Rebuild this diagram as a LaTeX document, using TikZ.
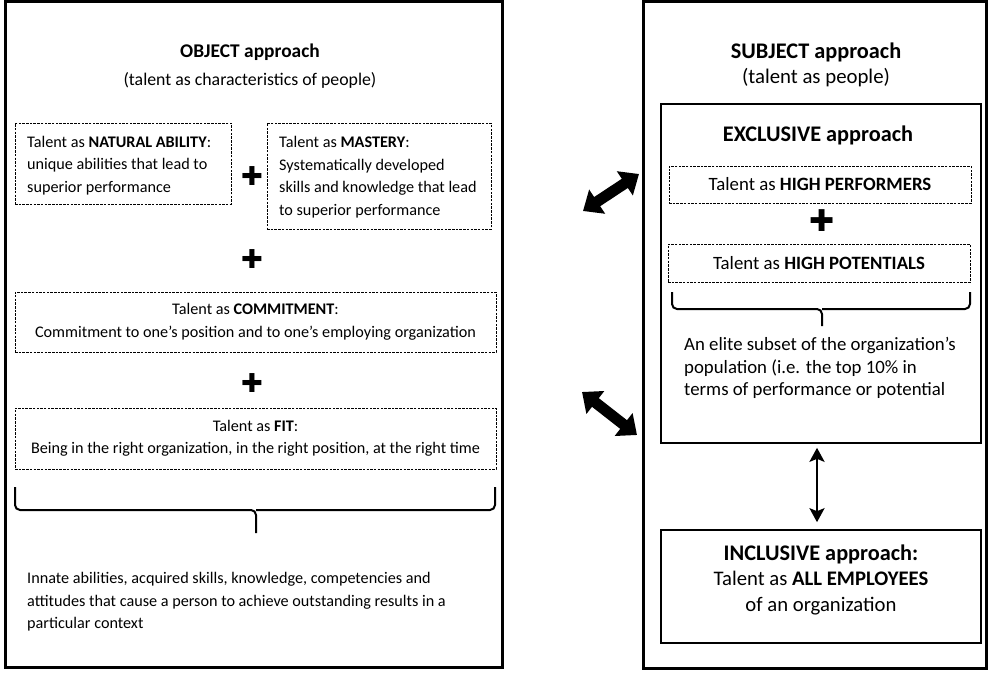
\documentclass[tikz,border=0pt]{standalone}
\usepackage{fontspec}
\setmainfont{Carlito}
\newfontfamily\symfont{DejaVu Sans}
\usetikzlibrary{arrows.meta}
\begin{document}
\begin{tikzpicture}[x=1pt,y=-1pt,
 every node/.style={font=\fontsize{16.2}{22.5}\selectfont, inner sep=0pt},
 rbody/.style={font=\fontsize{18.8}{22.5}\selectfont},
 outerbox/.style={draw, line width=3pt},
 solidbox/.style={draw, line width=1.6pt},
 dashbox/.style={draw, line width=0.9pt, dash pattern=on 2.5pt off 1.2pt},
 ttl/.style={font=\fontsize{19.4}{23}\selectfont\bfseries},
 subttl/.style={font=\fontsize{17.8}{22}\selectfont},
 rttl/.style={font=\fontsize{22.3}{26}\selectfont\bfseries},
 rsubttl/.style={font=\fontsize{20.8}{24}\selectfont},
 plussign/.style={font=\symfont\fontsize{26}{26}\selectfont},
 rplussign/.style={font=\symfont\fontsize{30}{30}\selectfont},
 fat/.style={line width=11pt, {Triangle[length=17pt,width=28pt]}-{Triangle[length=17pt,width=28pt]}},
 thin/.style={line width=2.6pt, {Stealth[length=14pt,width=15pt,inset=3pt]}-{Stealth[length=14pt,width=15pt,inset=3pt]}},
 bracepath/.style={line width=2pt, rounded corners=5pt}
]
\useasboundingbox (0,0) rectangle (989,677);

% outer boxes
\node[outerbox, minimum width=497pt, minimum height=665pt] (L) at (253.5,334.5) {};
\node[outerbox, minimum width=343pt, minimum height=666pt] (R) at (814.5,335) {};

% left titles
\node[ttl] (objt) at (250,52) {OBJECT approach};
\node[subttl] (objs) at (250,80) {(talent as characteristics of people)};

% left boxes
\node[dashbox, minimum width=216pt, minimum height=81pt] (nat) at (123,163.5) {};
\node[anchor=west, align=left] (natt) at (27,165.5)
 {Talent as \textbf{NATURAL ABILITY}:\\unique abilities that lead to\\superior performance};
\node[dashbox, minimum width=224pt, minimum height=106pt] (mas) at (379,176) {};
\node[anchor=west, align=left] (mast) at (279,177)
 {Talent as \textbf{MASTERY}:\\Systematically developed\\skills and knowledge that lead\\to superior performance};
\node[plussign] (p1) at (252,176) {✚};
\node[plussign] (p2) at (252,259) {✚};
\node[dashbox, minimum width=481pt, minimum height=60pt, align=center] (com) at (255.5,322)
 {Talent as \textbf{COMMITMENT}:\\Commitment to one’s position and to one’s employing organization};
\node[plussign] (p3) at (252,383) {✚};
\node[dashbox, minimum width=481pt, minimum height=61pt, align=center] (fit) at (255.5,438.5)
 {Talent as \textbf{FIT}:\\Being in the right organization, in the right position, at the right time};

% left brace
\coordinate (lb1) at (15,487);
\coordinate (lbm) at (256,510);
\coordinate (lbt) at (256,533);
\coordinate (lb2) at (495,487);
\draw[bracepath] (lb1) |- (lbm) -- (lbt);
\draw[bracepath] (lb2) |- (lbm);

\node[anchor=west, align=left] (objdef) at (27,602)
 {Innate abilities, acquired skills, knowledge, competencies and\\attitudes that cause a person to achieve outstanding results in a\\particular context};

% right titles
\node[rttl] (subt) at (816,52) {SUBJECT approach};
\node[rsubttl] (subs) at (816,78) {(talent as people)};

% exclusive
\node[solidbox, minimum width=320pt, minimum height=339pt] (exc) at (821,273.5) {};
\node[rttl] (exct) at (818,135) {EXCLUSIVE approach};
\node[dashbox, rbody, minimum width=302pt, minimum height=37pt] (hp) at (820,184.5) {Talent as \textbf{HIGH PERFORMERS}};
\node[rplussign] (p4) at (822,221) {✚};
\node[dashbox, rbody, minimum width=302pt, minimum height=38pt] (hpot) at (819,263) {Talent as \textbf{HIGH POTENTIALS}};

\coordinate (rb1) at (672,292);
\coordinate (rbm) at (822,309);
\coordinate (rbt) at (822,326);
\coordinate (rb2) at (970,292);
\draw[bracepath] (rb1) |- (rbm) -- (rbt);
\draw[bracepath] (rb2) |- (rbm);

\node[anchor=west, align=left, rbody] (elite) at (684,368)
 {An elite subset of the organization’s\\population (i.e. the top 10\% in\\terms of performance or potential};

% inclusive
\node[solidbox, minimum width=320pt, minimum height=113pt] (inc) at (821,586.5) {};
\node[align=center, font=\fontsize{20.7}{25.5}\selectfont] (inct) at (821,579.5)
 {{\fontsize{22.3}{26}\selectfont\bfseries INCLUSIVE approach:}\\Talent as \textbf{ALL EMPLOYEES}\\of an organization};

\draw[thin, shorten <=4pt, shorten >=7pt] ([xshift=-4pt]exc.south) -- ([xshift=-4pt]inc.north);

% fat arrows between approaches
\coordinate (a1) at (583,211);
\coordinate (a2) at (639,174);
\coordinate (b1) at (582,392);
\coordinate (b2) at (637,435);
\draw[fat] (a1) -- (a2);
\draw[fat] (b1) -- (b2);
\end{tikzpicture}
\end{document}
